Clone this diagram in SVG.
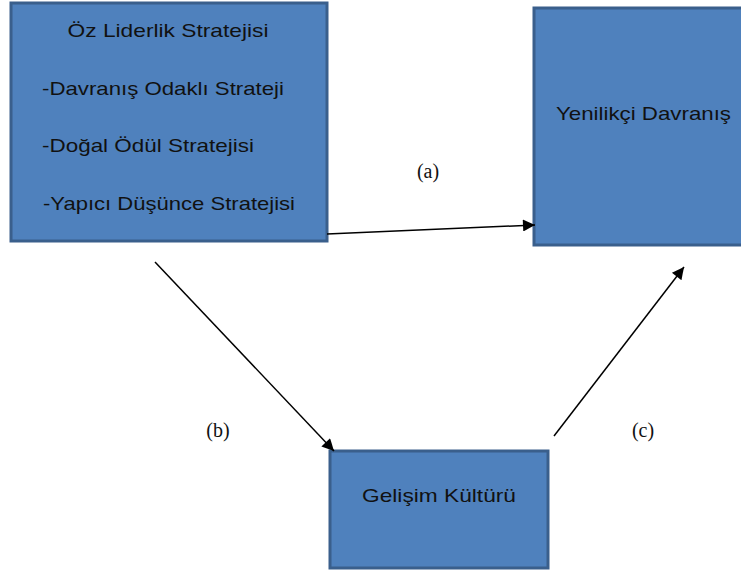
<svg xmlns="http://www.w3.org/2000/svg" width="741" height="572" viewBox="0 0 741 572">
<style>
.box{fill:#4F81BD;stroke:#3A5F8C;stroke-width:3}
.t{font-family:"Liberation Sans",Arial,sans-serif;font-size:19px;fill:#111}
.l{font-family:"Liberation Serif","Times New Roman",serif;font-size:20px;fill:#111}
.c{stroke:#000;stroke-width:1.5;fill:none;marker-end:url(#ah)}
</style>
<defs>
<marker id="ah" viewBox="0 0 10 10" refX="10" refY="5" markerWidth="15" markerHeight="12" markerUnits="userSpaceOnUse" orient="auto">
<path d="M0,0 L10,5 L0,10 z" fill="#000"/>
</marker>
</defs>
<rect width="741" height="572" fill="#fff"/>
<g id="oz-liderlik">
<rect class="box" x="11" y="3" width="316" height="238"/>
<text class="t" x="168" y="37" text-anchor="middle" textLength="201" lengthAdjust="spacingAndGlyphs">Öz Liderlik Stratejisi</text>
<text class="t" x="42" y="95" textLength="242" lengthAdjust="spacingAndGlyphs">-Davranış Odaklı Strateji</text>
<text class="t" x="42" y="152" textLength="212" lengthAdjust="spacingAndGlyphs">-Doğal Ödül Stratejisi</text>
<text class="t" x="43" y="210" textLength="252" lengthAdjust="spacingAndGlyphs">-Yapıcı Düşünce Stratejisi</text>
</g>
<g id="yenilikci">
<rect class="box" x="534" y="8" width="215" height="237"/>
<text class="t" x="556" y="120" textLength="175" lengthAdjust="spacingAndGlyphs">Yenilikçi Davranış</text>
</g>
<g id="gelisim">
<rect class="box" x="330" y="451" width="218" height="117"/>
<text class="t" x="362" y="502" textLength="154" lengthAdjust="spacingAndGlyphs">Gelişim Kültürü</text>
</g>
<g id="connectors">
<line class="c" x1="327" y1="234" x2="535" y2="225"/>
<line class="c" x1="155" y1="262" x2="334" y2="451"/>
<line class="c" x1="554" y1="436" x2="684" y2="267"/>
<text class="l" x="428" y="178" text-anchor="middle">(a)</text>
<text class="l" x="218" y="437" text-anchor="middle">(b)</text>
<text class="l" x="643" y="437" text-anchor="middle">(c)</text>
</g>
</svg>
